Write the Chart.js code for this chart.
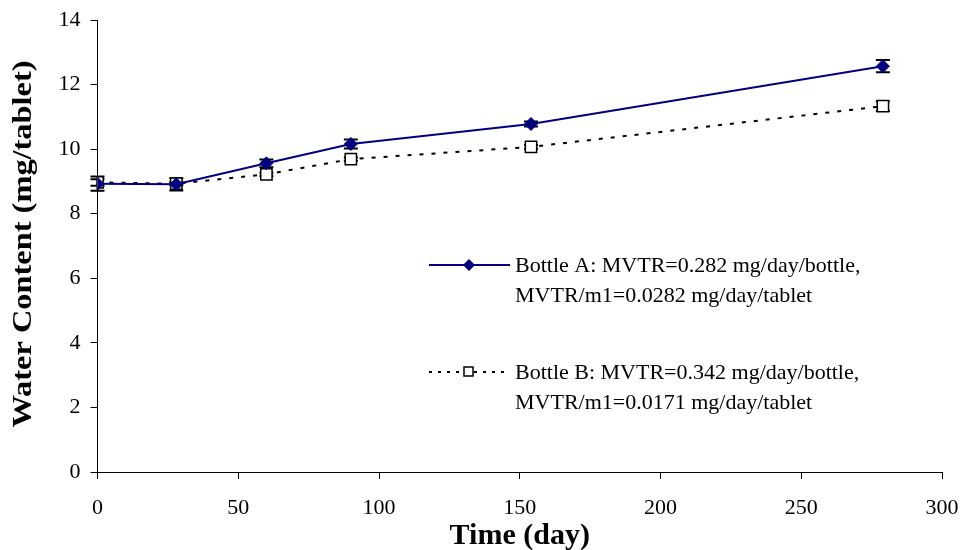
<!DOCTYPE html>
<html>
<head>
<meta charset="utf-8">
<script src="https://cdn.jsdelivr.net/npm/chart.js@4/dist/chart.umd.min.js"></script>
<style>
    html, body { margin: 0; padding: 0; background: #fff; }
    #wrap { width: 963px; height: 550px; position: relative; }
</style>
</head>
<body>
<div id="wrap"><canvas id="chart"></canvas></div>
<script>
// data
const days = [0, 28, 60, 90, 154, 279];
const bottleA = [8.93, 8.91, 9.56, 10.16, 10.78, 12.57];
const bottleAErr = [0.22, 0.19, 0.12, 0.14, 0.08, 0.19];
const bottleB = [8.97, 8.93, 9.22, 9.69, 10.07, 11.33];
const bottleBErr = [0.1, 0.05, 0.05, 0.05, 0.06, 0.15];
const legendA = ['Bottle A: MVTR=0.282 mg/day/bottle,', 'MVTR/m1=0.0282 mg/day/tablet'];
const legendB = ['Bottle B: MVTR=0.342 mg/day/bottle,', 'MVTR/m1=0.0171 mg/day/tablet'];
const xTitle = 'Time (day)';
const yTitle = 'Water Content (mg/tablet)';

const serif = '"Liberation Serif", "Times New Roman", serif';
const navy = '#000080';

function toPoints(xs, ys) {
    return xs.map(function (x, i) { return { x: x, y: ys[i] }; });
}

// error bars, drawn under the markers
const errorBars = {
    id: 'errorBars',
    beforeDatasetsDraw: function (chart) {
        const ctx = chart.ctx;
        const xs = chart.scales.x, ys = chart.scales.y;
        const errs = [bottleAErr, bottleBErr];
        ctx.save();
        ctx.strokeStyle = '#000';
        ctx.lineWidth = 2;
        chart.data.datasets.forEach(function (ds, k) {
            ds.data.forEach(function (p, i) {
                const e = errs[k][i];
                const px = xs.getPixelForValue(p.x);
                const top = ys.getPixelForValue(p.y + e);
                const bot = ys.getPixelForValue(p.y - e);
                ctx.beginPath();
                ctx.moveTo(px, top); ctx.lineTo(px, bot);
                ctx.moveTo(px - 7, top); ctx.lineTo(px + 7, top);
                ctx.moveTo(px - 7, bot); ctx.lineTo(px + 7, bot);
                ctx.stroke();
            });
        });
        ctx.restore();
    }
};

// legend box inside the plot, and the y title (stretched like the original)
const extras = {
    id: 'extras',
    afterDraw: function (chart) {
        const ctx = chart.ctx;
        ctx.save();

        ctx.font = '22px ' + serif;
        ctx.fillStyle = '#000';
        ctx.textBaseline = 'middle';
        ctx.textAlign = 'left';

        // entry A
        ctx.strokeStyle = navy;
        ctx.lineWidth = 2;
        ctx.beginPath(); ctx.moveTo(429, 265); ctx.lineTo(510, 265); ctx.stroke();
        ctx.fillStyle = navy;
        ctx.beginPath();
        ctx.moveTo(469, 259); ctx.lineTo(475, 265); ctx.lineTo(469, 271); ctx.lineTo(463, 265);
        ctx.closePath(); ctx.fill();
        ctx.fillStyle = '#000';
        ctx.fillText(legendA[0], 515, 266);
        ctx.fillText(legendA[1], 515, 296);

        // entry B
        ctx.strokeStyle = '#000';
        ctx.setLineDash([3, 6]);
        ctx.beginPath(); ctx.moveTo(429, 372); ctx.lineTo(510, 372); ctx.stroke();
        ctx.setLineDash([]);
        ctx.lineWidth = 1.5;
        ctx.fillStyle = '#fff';
        ctx.fillRect(464, 367, 9, 9);
        ctx.strokeRect(464, 367, 9, 9);
        ctx.fillStyle = '#000';
        ctx.fillText(legendB[0], 515, 373);
        ctx.fillText(legendB[1], 515, 403);

        // y title
        ctx.font = 'bold 27px ' + serif;
        ctx.textAlign = 'center';
        ctx.translate(24, 244);
        ctx.rotate(-Math.PI / 2);
        ctx.scale(1.2, 1);
        ctx.fillText(yTitle, 0, 0);
        ctx.restore();
    }
};

new Chart(document.getElementById('chart').getContext('2d'), {
    type: 'scatter',
    data: {
        datasets: [{
            label: legendA.join(' '),
            data: toPoints(days, bottleA),
            showLine: true,
            borderColor: navy,
            backgroundColor: navy,
            borderWidth: 2,
            pointStyle: 'rectRot',
            pointRadius: 6.5,
            pointBorderWidth: 1,
            pointBorderColor: navy,
            pointBackgroundColor: navy
        }, {
            label: legendB.join(' '),
            data: toPoints(days, bottleB),
            showLine: true,
            borderColor: '#000',
            backgroundColor: '#fff',
            borderWidth: 2,
            borderDash: [4, 8],
            pointStyle: 'rect',
            pointRadius: 8,
            pointBorderWidth: 1.5,
            pointBorderColor: '#000',
            pointBackgroundColor: '#fff'
        }]
    },
    options: {
        responsive: true,
        maintainAspectRatio: false,
        animation: false,
        layout: { padding: { top: 20, right: 21, left: 0, bottom: 0 } },
        plugins: {
            legend: { display: false },
            tooltip: { enabled: false }
        },
        scales: {
            x: {
                type: 'linear',
                min: 0,
                max: 300,
                afterFit: function (s) { s.height = 78; s.paddingLeft = 0; s.paddingRight = 0; },
                grid: { drawOnChartArea: false, tickLength: 7, color: '#000' },
                border: { color: '#000', width: 1 },
                ticks: { stepSize: 50, color: '#000', padding: 16, maxRotation: 0, font: { family: serif, size: 22 } },
                title: { display: true, text: xTitle, color: '#000', padding: { top: 0, bottom: -4 }, font: { family: serif, size: 30, weight: 'bold' } }
            },
            y: {
                min: 0,
                max: 14,
                afterFit: function (s) { s.width = 97.5; s.paddingTop = 0; s.paddingBottom = 0; },
                grid: { drawOnChartArea: false, tickLength: 7, color: '#000' },
                border: { color: '#000', width: 1 },
                ticks: { stepSize: 2, color: '#000', padding: 10, font: { family: serif, size: 22 } }
            }
        }
    },
    plugins: [errorBars, extras]
});
</script>
</body>
</html>
